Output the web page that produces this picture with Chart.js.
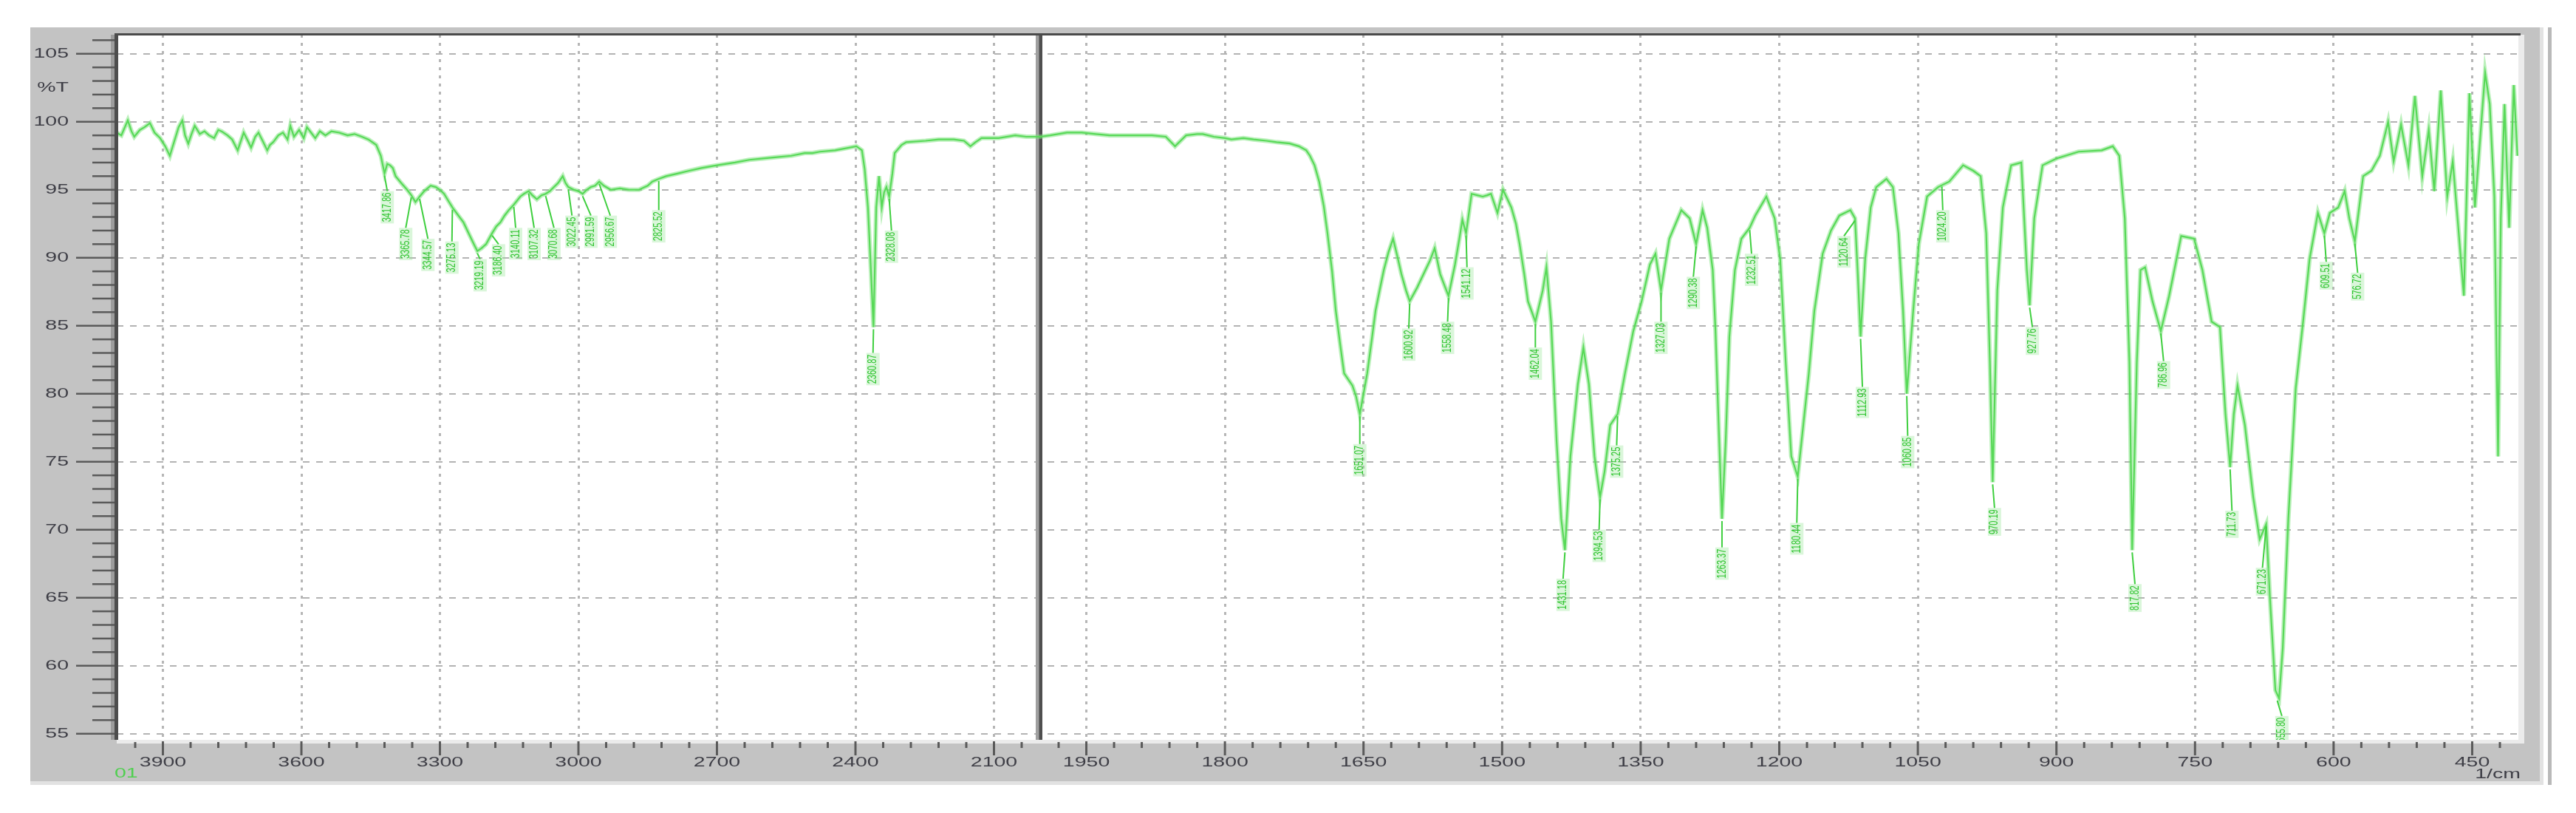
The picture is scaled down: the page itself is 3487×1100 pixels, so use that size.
<!DOCTYPE html>
<html>
<head>
<meta charset="utf-8">
<script src="https://cdn.jsdelivr.net/npm/chart.js@4.4.0/dist/chart.umd.min.js"></script>
<style>
  html, body { margin: 0; padding: 0; background: #fff; }
</style>
</head>
<body>
<canvas id="irChart" width="3487" height="1100"></canvas>
<script>
// IR spectrum, wavenumber (1/cm) vs %T
const wavenumbers = [
  4000, 3990, 3976, 3968, 3962, 3950, 3940, 3928, 3918, 3906, 3895, 3885, 3875, 3866, 3858, 3852, 3845, 3838, 3831, 3820,
  3810, 3800, 3789, 3780, 3773, 3760, 3750, 3738, 3730, 3725, 3716, 3709, 3700, 3693, 3684, 3674, 3668, 3661, 3650, 3640,
  3630, 3624, 3616, 3605, 3595, 3588, 3579, 3570, 3560, 3548, 3535, 3518, 3500, 3485, 3469, 3455, 3438, 3428, 3420, 3414,
  3408, 3402, 3396, 3384, 3371, 3362, 3353, 3344, 3334, 3320, 3309, 3300, 3291, 3282, 3273, 3260, 3249, 3235, 3225, 3219,
  3210, 3200, 3187, 3178, 3169, 3160, 3151, 3140, 3126, 3118, 3108, 3100, 3090, 3080, 3071, 3062, 3053, 3044, 3034, 3028,
  3022, 3010, 3000, 2991, 2982, 2973, 2964, 2955, 2945, 2930, 2910, 2890, 2869, 2850, 2840, 2826, 2810, 2784, 2760, 2734,
  2700, 2661, 2630, 2600, 2570, 2539, 2510, 2493, 2477, 2444, 2429, 2398, 2386, 2380, 2373, 2366, 2361, 2355, 2349, 2343,
  2338, 2333, 2327, 2320, 2315, 2300, 2290, 2248, 2220, 2187, 2165, 2151, 2140, 2127, 2090, 2054, 2030, 2005,
  2000, 1989, 1971, 1955, 1940, 1925, 1910, 1895, 1879, 1864, 1854, 1848, 1842, 1830, 1824, 1812, 1800, 1793, 1780, 1769,
  1755, 1744, 1730, 1720, 1712, 1708, 1703, 1698, 1693, 1689, 1684, 1680, 1675, 1671, 1666, 1662, 1658, 1654, 1650, 1646,
  1641, 1637, 1632, 1628, 1623, 1618, 1613, 1609, 1604, 1600, 1592, 1585, 1578, 1573, 1567, 1562, 1558, 1551, 1546, 1543,
  1539, 1533, 1527, 1521, 1516, 1512, 1505, 1499, 1490, 1485, 1481, 1476, 1472, 1464, 1456, 1452, 1447, 1441, 1436, 1432,
  1426, 1418, 1412, 1406, 1400, 1394, 1389, 1383, 1375, 1367, 1358, 1349, 1340, 1334, 1328, 1319, 1306, 1297, 1290, 1283,
  1278, 1272, 1269, 1266, 1262, 1258, 1254, 1248, 1241, 1232, 1226, 1220, 1214, 1205, 1199, 1193, 1187, 1180, 1174, 1168,
  1162, 1153, 1144, 1135, 1123, 1118, 1115, 1112, 1107, 1101, 1095, 1084, 1077, 1071, 1066, 1062, 1055, 1049, 1040, 1028,
  1016, 1001, 990, 982, 976, 972, 969, 964, 958, 949, 938, 932, 929, 924, 915, 900, 876, 851, 839, 832,
  826, 821, 818, 813, 809, 804, 796, 787, 778, 765, 751, 742, 732, 723, 717, 712, 708, 704, 696, 687,
  680, 673, 669, 663, 659, 655, 649, 641, 633, 626, 617, 610, 604, 595, 588, 583, 577, 568, 559, 550,
  541, 535, 527, 519, 512, 504, 497, 491, 484, 477, 471, 465, 459, 453, 447, 436, 431, 426, 422, 419,
  415, 410, 405, 401
];
const transmittance = [
  99.2, 99.0, 100.1, 99.3, 98.9, 99.4, 99.6, 99.9, 99.2, 98.8, 98.2, 97.5, 98.6, 99.6, 100.1, 99.0, 98.4, 99.1, 99.7, 99.1,
  99.3, 99.0, 98.8, 99.4, 99.3, 99.0, 98.7, 97.9, 98.7, 99.2, 98.6, 98.1, 98.9, 99.2, 98.6, 97.9, 98.3, 98.5, 99.0, 99.2,
  98.7, 99.7, 98.9, 99.4, 98.8, 99.6, 99.2, 98.8, 99.3, 99.0, 99.3, 99.2, 99.0, 99.1, 98.9, 98.7, 98.3, 97.5, 96.2, 96.9,
  96.8, 96.6, 96.0, 95.5, 95.0, 94.6, 94.1, 94.5, 94.9, 95.3, 95.2, 95.0, 94.7, 94.2, 93.7, 93.1, 92.6, 91.6, 90.9, 90.5,
  90.7, 91.0, 91.8, 92.3, 92.6, 93.1, 93.5, 93.9, 94.5, 94.7, 94.9, 94.6, 94.3, 94.6, 94.7, 94.9, 95.2, 95.5, 96.0, 95.5,
  95.2, 95.0, 94.9, 94.7, 95.0, 95.2, 95.3, 95.6, 95.3, 95.0, 95.1, 95.0, 95.0, 95.3, 95.6, 95.8, 96.0, 96.2, 96.4, 96.6,
  96.8, 97.0, 97.2, 97.3, 97.4, 97.5, 97.7, 97.7, 97.8, 97.9, 98.0, 98.2, 97.9, 96.5, 93.7, 88.7, 84.9, 93.7, 96.0, 93.7,
  94.8, 95.2, 94.5, 96.2, 97.7, 98.3, 98.5, 98.6, 98.7, 98.7, 98.6, 98.2, 98.5, 98.8, 98.8, 99.0, 98.9, 98.9,
  98.9, 99.0, 99.2, 99.2, 99.1, 99.0, 99.0, 99.0, 99.0, 98.9, 98.2, 98.6, 99.0, 99.1, 99.1, 98.9, 98.8, 98.7, 98.8, 98.7,
  98.6, 98.5, 98.4, 98.2, 97.9, 97.5, 96.8, 95.6, 93.8, 91.8, 89.0, 86.1, 83.5, 81.5, 81.0, 80.6, 79.8, 78.5, 80.0, 81.5,
  84.0, 86.1, 87.8, 89.1, 90.4, 91.4, 90.0, 88.8, 87.6, 86.8, 87.8, 88.8, 89.8, 90.7, 88.8, 87.9, 87.2, 89.5, 91.5, 92.8,
  91.8, 94.7, 94.6, 94.5, 94.6, 94.7, 93.3, 95.0, 93.7, 92.5, 91.0, 88.8, 86.8, 85.3, 87.6, 89.3, 85.3, 76.5, 70.8, 68.5,
  75.4, 80.7, 83.4, 80.7, 75.4, 72.4, 74.3, 77.7, 78.5, 81.5, 84.6, 86.8, 89.5, 90.3, 87.6, 91.4, 93.5, 92.9, 91.0, 93.5,
  92.2, 89.1, 84.6, 78.5, 70.8, 76.5, 84.2, 89.1, 91.4, 92.2, 93.1, 93.8, 94.5, 92.9, 89.9, 82.3, 75.4, 73.9, 77.7, 81.5,
  86.1, 90.3, 92.0, 93.1, 93.5, 92.9, 88.8, 84.2, 89.9, 93.7, 95.2, 95.8, 95.2, 91.8, 86.1, 80.0, 86.1, 91.0, 94.5, 95.2,
  95.6, 96.8, 96.4, 96.0, 91.8, 82.3, 73.5, 87.6, 93.7, 96.8, 97.0, 89.1, 86.5, 92.9, 96.8, 97.3, 97.8, 97.9, 98.2, 97.5,
  92.9, 82.3, 68.5, 82.3, 89.1, 89.3, 86.8, 84.6, 87.2, 91.6, 91.4, 89.1, 85.3, 84.9, 78.5, 74.6, 78.5, 80.6, 77.7, 72.4,
  69.3, 70.4, 65.1, 58.2, 57.6, 61.3, 70.8, 80.4, 85.3, 89.9, 93.3, 91.8, 93.3, 93.7, 94.9, 92.9, 91.2, 96.0, 96.4, 97.5,
  100.0, 97.1, 99.8, 96.8, 101.9, 96.0, 99.4, 94.9, 102.3, 94.5, 97.1, 92.2, 87.2, 102.1, 93.7, 103.6, 101.3, 94.5, 75.4, 92.9,
  101.3, 92.2, 102.7, 97.5
];

// axis ticks
const xMajorTicks = [3900, 3600, 3300, 3000, 2700, 2400, 2100, 1950, 1800, 1650, 1500, 1350, 1200, 1050, 900, 750, 600, 450];
const yTicks = [55, 60, 65, 70, 75, 80, 85, 90, 95, 100, 105];

// peak annotations
const peakWn = [3420, 3362, 3344, 3273, 3219, 3187, 3140, 3108, 3071, 3022, 2991, 2955, 2826, 2361, 2327,
  1654, 1600, 1558, 1539, 1464, 1432, 1394, 1375, 1328, 1290, 1262, 1232, 1180, 1118, 1112, 1062, 1024,
  969, 929, 818, 787, 712, 673, 661, 610, 577];
const peakT = [96.2, 94.6, 94.5, 93.7, 90.5, 91.8, 93.9, 94.9, 94.7, 95.2, 94.7, 95.6, 95.8, 84.9, 94.5,
  78.5, 86.8, 87.2, 91.8, 85.3, 68.5, 72.4, 78.5, 87.6, 91.0, 70.8, 92.2, 73.9, 92.9, 84.2, 80.0, 95.4,
  73.5, 86.5, 68.5, 84.6, 74.6, 70.4, 57.6, 91.8, 91.2];
const labelWn = [3414, 3374, 3326, 3274, 3213, 3173, 3136, 3096, 3053, 3014, 2973, 2931, 2826, 2362, 2322,
  1654, 1601, 1559, 1538, 1464, 1434, 1395, 1376, 1328, 1293, 1262, 1230, 1181, 1130, 1110, 1061, 1023,
  967, 926, 815, 784, 710, 677, 656, 608, 574];
const labelTop = [94.9, 92.2, 91.4, 91.2, 89.9, 91.0, 92.2, 92.2, 92.2, 93.1, 93.1, 93.1, 93.5, 83.0, 92.0,
  76.3, 84.8, 85.3, 89.3, 83.4, 66.4, 70.0, 76.2, 85.3, 88.6, 68.7, 90.3, 70.5, 91.6, 80.5, 76.9, 93.5,
  71.6, 84.9, 66.0, 82.4, 71.4, 67.2, 56.3, 89.7, 88.9];
const peakText = ['3417.86', '3365.78', '3344.57', '3275.13', '3219.19', '3186.40', '3140.11', '3107.32',
  '3070.68', '3022.45', '2991.59', '2956.67', '2825.52', '2360.87', '2328.08',
  '1651.07', '1600.92', '1558.48', '1541.12', '1462.04', '1431.18', '1394.53', '1375.25', '1327.03',
  '1290.38', '1263.37', '1232.51', '1180.44', '1120.64', '1112.93', '1060.85', '1024.20',
  '970.19', '927.76', '817.82', '786.96', '711.73', '671.23', '655.80', '609.51', '576.72'];

const X_MAX = 4000;
const X_MIN = 400;
const BREAK_WN = 2000;
const BREAK_FRAC = 1250 / 3251; // 4000-2000 gets half the px/unit of 2000-400

// linear scale with the usual 2000 1/cm change of scale
class IRScale extends Chart.LinearScale {
  getPixelForValue(value) {
    if (value === null || value === undefined || isNaN(value)) return NaN;
    let frac;
    if (value >= BREAK_WN) {
      frac = (X_MAX - value) / (X_MAX - BREAK_WN) * BREAK_FRAC;
    } else {
      frac = BREAK_FRAC + (BREAK_WN - value) / (BREAK_WN - X_MIN) * (1 - BREAK_FRAC);
    }
    return this.left + frac * this.width;
  }
  getValueForPixel(pixel) {
    const frac = (pixel - this.left) / this.width;
    if (frac <= BREAK_FRAC) {
      return X_MAX - frac / BREAK_FRAC * (X_MAX - BREAK_WN);
    }
    return BREAK_WN - (frac - BREAK_FRAC) / (1 - BREAK_FRAC) * (BREAK_WN - X_MIN);
  }
}
IRScale.id = 'irscale';
IRScale.defaults = Chart.LinearScale.defaults;
Chart.register(IRScale);

const LABEL_FONT = '19px "Liberation Sans", Arial, sans-serif';
const STRETCH = 1.5;

const stretchedText = (ctx, text, x, y, align) => {
  ctx.save();
  ctx.translate(x, y);
  ctx.scale(STRETCH, 1);
  ctx.textAlign = align;
  ctx.fillText(text, 0, 0);
  ctx.restore();
};

const framePlugin = {
  id: 'frame',
  beforeDraw(chart) {
    const ctx = chart.ctx;
    const a = chart.chartArea;
    ctx.save();
    ctx.fillStyle = '#ffffff';
    ctx.fillRect(0, 0, chart.width, chart.height);
    // grey panel
    ctx.fillStyle = '#c3c3c3';
    ctx.fillRect(41, 37, 3401, 1020);
    ctx.fillStyle = '#e2e2e2';
    ctx.fillRect(41, 1057, 3401, 5);
    ctx.fillRect(3438, 37, 5, 1025);
    ctx.fillStyle = '#b9b9b9';
    ctx.fillRect(3449, 37, 5, 1025);
    // plot area
    ctx.fillStyle = '#ebebeb';
    ctx.fillRect(a.left, a.top, a.right - a.left + 8, a.bottom - a.top + 5);
    ctx.fillStyle = '#ffffff';
    ctx.fillRect(a.left, a.top, a.right - a.left, a.bottom - a.top);
    ctx.restore();
  },
  beforeDatasetsDraw(chart) {
    const ctx = chart.ctx;
    const a = chart.chartArea;
    const bx = chart.scales.x.getPixelForValue(BREAK_WN);
    ctx.save();
    ctx.fillStyle = '#a0a0a0';
    ctx.fillRect(bx - 6, a.top, 5, a.bottom - a.top);
    ctx.fillStyle = '#4f4f4f';
    ctx.fillRect(bx - 1.5, a.top, 4.5, a.bottom - a.top);
    ctx.restore();
  },
  afterDatasetsDraw(chart) {
    const ctx = chart.ctx;
    const a = chart.chartArea;
    const xs = chart.scales.x;
    const ys = chart.scales.y;
    ctx.save();
    ctx.beginPath();
    ctx.rect(a.left, a.top, a.right - a.left, a.bottom - a.top);
    ctx.clip();
    ctx.font = '11px "Liberation Sans", Arial, sans-serif';
    ctx.textBaseline = 'middle';
    for (let i = 0; i < peakWn.length; i++) {
      const px = xs.getPixelForValue(peakWn[i]);
      const py = ys.getPixelForValue(peakT[i]);
      const lx = xs.getPixelForValue(labelWn[i]);
      const ly = ys.getPixelForValue(labelTop[i]);
      ctx.strokeStyle = '#3fcf3f';
      ctx.lineWidth = 2;
      ctx.beginPath();
      ctx.moveTo(px, py + 3);
      ctx.lineTo(lx, ly);
      ctx.stroke();
      const w = ctx.measureText(peakText[i]).width;
      ctx.fillStyle = 'rgba(150, 230, 150, 0.35)';
      ctx.fillRect(lx - 9, ly, 18, w + 4);
      ctx.save();
      ctx.translate(lx, ly + 2);
      ctx.scale(STRETCH, 1);
      ctx.rotate(-Math.PI / 2);
      ctx.textAlign = 'right';
      ctx.fillStyle = '#2fc42f';
      ctx.fillText(peakText[i], 0, 0);
      ctx.restore();
    }
    ctx.restore();
  },
  afterDraw(chart) {
    const ctx = chart.ctx;
    const a = chart.chartArea;
    const xs = chart.scales.x;
    const ys = chart.scales.y;
    ctx.save();
    // frame lines
    ctx.fillStyle = '#4a4a4a';
    ctx.fillRect(a.left - 3, a.top - 2, a.right - a.left + 6, 3);
    ctx.fillStyle = '#9c9c9c';
    ctx.fillRect(a.left - 8, a.top, 5, a.bottom - a.top);
    ctx.fillStyle = '#4d4d4d';
    ctx.fillRect(a.left - 3, a.top - 2, 5, a.bottom - a.top + 2);

    // y ticks, 1 %T apart
    ctx.strokeStyle = '#5a5a5a';
    ctx.lineWidth = 2.5;
    for (let v = 55; v <= 106; v++) {
      const py = ys.getPixelForValue(v);
      const len = v % 5 === 0 ? 52 : 30;
      ctx.beginPath();
      ctx.moveTo(a.left - 3 - len, py);
      ctx.lineTo(a.left - 3, py);
      ctx.stroke();
    }
    ctx.fillStyle = '#3e3e46';
    ctx.font = LABEL_FONT;
    ctx.textBaseline = 'middle';
    yTicks.forEach(v => stretchedText(ctx, String(v), a.left - 65, ys.getPixelForValue(v), 'right'));
    stretchedText(ctx, '%T', a.left - 65, ys.getPixelForValue(102.5), 'right');

    // x ticks: 60 apart left of the break, 30 apart right of it
    ctx.lineWidth = 3;
    const minor = [];
    for (let v = 3960; v >= 2040; v -= 60) if (v % 300 !== 0) minor.push(v);
    for (let v = 1980; v >= 420; v -= 30) if (v % 150 !== 0) minor.push(v);
    minor.forEach(v => {
      const px = xs.getPixelForValue(v);
      ctx.beginPath();
      ctx.moveTo(px, a.bottom + 3);
      ctx.lineTo(px, a.bottom + 11);
      ctx.stroke();
    });
    xMajorTicks.forEach(v => {
      const px = xs.getPixelForValue(v);
      ctx.beginPath();
      ctx.moveTo(px, a.bottom + 2);
      ctx.lineTo(px, a.bottom + 21);
      ctx.stroke();
      stretchedText(ctx, String(v), px, a.bottom + 31, 'center');
    });
    stretchedText(ctx, '1/cm', a.right + 3, a.bottom + 47, 'right');
    ctx.fillStyle = '#4fcf4f';
    stretchedText(ctx, '01', a.left - 3, a.bottom + 46, 'left');
    ctx.restore();
  }
};

const points = wavenumbers.map((wn, i) => ({ x: wn, y: transmittance[i] }));

new Chart(document.getElementById('irChart'), {
  type: 'line',
  data: {
    datasets: [
      {
        label: 'halo',
        data: points,
        borderColor: 'rgba(120, 225, 120, 0.5)',
        borderWidth: 6,
        pointRadius: 0,
        tension: 0
      },
      {
        label: '%T',
        data: points,
        borderColor: '#38d038',
        borderWidth: 2.2,
        pointRadius: 0,
        tension: 0
      }
    ]
  },
  options: {
    responsive: false,
    animation: false,
    events: [],
    layout: { padding: { left: 158, right: 78, top: 47, bottom: 99 } },
    scales: {
      x: {
        type: 'irscale',
        position: 'bottom',
        min: X_MIN,
        max: X_MAX,
        ticks: { display: false },
        grid: { color: '#b6b6b6', lineWidth: 3, drawTicks: false },
        border: { display: false, dash: [4, 7] },
        afterBuildTicks: (scale) => { scale.ticks = xMajorTicks.map(v => ({ value: v })); },
        afterFit: (scale) => { scale.height = 0; }
      },
      y: {
        type: 'linear',
        min: 54.55,
        max: 106.4,
        ticks: { display: false },
        grid: { color: '#b3b3b3', lineWidth: 2, drawTicks: false },
        border: { display: false, dash: [9, 9] },
        afterBuildTicks: (scale) => { scale.ticks = yTicks.map(v => ({ value: v })); },
        afterFit: (scale) => { scale.width = 0; }
      }
    },
    plugins: {
      legend: { display: false },
      tooltip: { enabled: false }
    }
  },
  plugins: [framePlugin]
});
</script>
</body>
</html>
